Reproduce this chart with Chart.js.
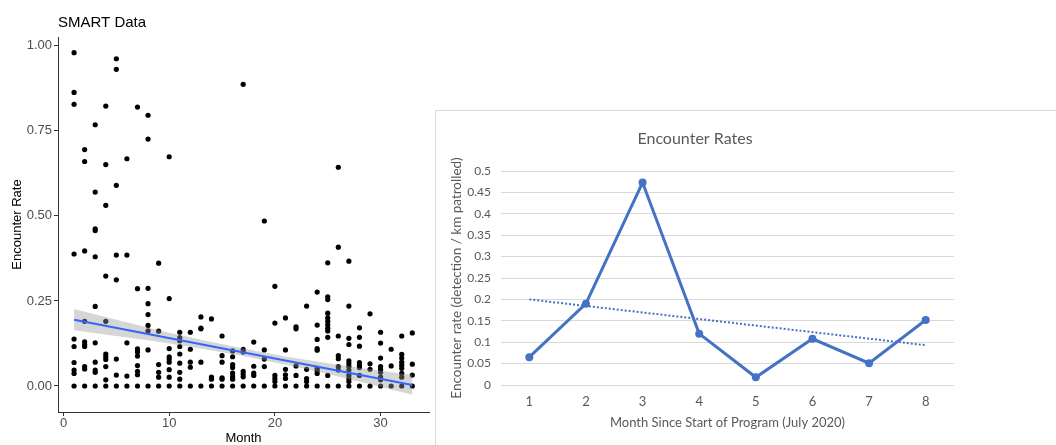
<!DOCTYPE html>
<html>
  <head>
    <meta charset="UTF-8" />
    <title>SMART Data / Encounter Rates</title>
    <script src="https://cdn.jsdelivr.net/npm/chart.js"></script>
    <style>
      body {
        margin: 0;
        background: #ffffff;
        width: 1056px;
        height: 445px;
        overflow: hidden;
        position: relative;
      }
      .left-box {
        position: absolute;
        left: 0;
        top: 0;
        width: 435px;
        height: 445px;
      }
      .right-box {
        position: absolute;
        left: 435px;
        top: 110px;
        width: 620px;
        height: 334px;
        border-left: 1px solid #d9d9d9;
        border-top: 1px solid #d9d9d9;
      }
    </style>
  </head>
  <body>
    <div class="left-box"><canvas id="smartChart"></canvas></div>
    <div class="right-box"><canvas id="rateChart"></canvas></div>

    <script>
      // left panel: SMART data, one row of encounter rates per month
      const smartMonths = [
        1, 2, 3, 4, 5, 6, 7, 8, 9, 10, 11, 12, 13, 14, 15, 16, 17,
        18, 19, 20, 21, 22, 23, 24, 25, 26, 27, 28, 29, 30, 31, 32, 33
      ];
      const smartRates = [
        [0.98, 0.863, 0.828, 0.388, 0.138, 0.116, 0.069, 0.047, 0.037, 0],
        [0.695, 0.66, 0.397, 0.19, 0.13, 0.122, 0.116, 0.057, 0.05, 0],
        [0.768, 0.57, 0.462, 0.457, 0.38, 0.234, 0.127, 0.07, 0.047, 0.04, 0],
        [0.823, 0.651, 0.531, 0.323, 0.19, 0.094, 0.086, 0.078, 0.057, 0.018, 0],
        [0.962, 0.931, 0.59, 0.385, 0.312, 0.079, 0.032, 0],
        [0.668, 0.385, 0.127, 0.029, 0],
        [0.82, 0.286, 0.109, 0.1, 0.088, 0.06, 0.043, 0.033, 0],
        [0.796, 0.726, 0.287, 0.242, 0.21, 0.178, 0.162, 0.106, 0],
        [0.361, 0.161, 0.063, 0.04, 0.026, 0],
        [0.674, 0.257, 0.11, 0.086, 0.079, 0.07, 0.048, 0.026, 0],
        [0.158, 0.142, 0.133, 0.116, 0.094, 0.067, 0.04, 0.02, 0],
        [0.158, 0.108, 0.07, 0.055, 0],
        [0.203, 0.17, 0.168, 0.07, 0],
        [0.197, 0.026, 0.02, 0],
        [0.147, 0.089, 0.07, 0.024, 0.02, 0],
        [0.103, 0.086, 0.063, 0.054, 0.038, 0.028, 0.02, 0],
        [0.887, 0.108, 0.1, 0.043, 0.035, 0.027, 0],
        [0.129, 0.058, 0.038, 0.031, 0],
        [0.485, 0.106, 0.079, 0.057, 0],
        [0.293, 0.185, 0.031, 0.022, 0.013, 0],
        [0.2, 0.106, 0.049, 0.033, 0.022, 0],
        [0.174, 0.168, 0.059, 0.031, 0],
        [0.235, 0.049, 0.022, 0.013, 0],
        [0.276, 0.179, 0.137, 0.11, 0.105, 0.052, 0.045, 0.037, 0],
        [0.362, 0.262, 0.254, 0.214, 0.2, 0.19, 0.18, 0.17, 0.162, 0.143, 0.031, 0],
        [0.643, 0.408, 0.147, 0.089, 0.08, 0.057, 0.047, 0],
        [0.367, 0.235, 0.14, 0.122, 0.074, 0.066, 0.057, 0.047, 0.031, 0.022, 0.013, 0],
        [0.171, 0.143, 0.117, 0.069, 0.061, 0.054, 0.031, 0],
        [0.212, 0.065, 0.049, 0],
        [0.158, 0.126, 0.082, 0.057, 0.049, 0.04, 0.026, 0.018, 0],
        [0.108, 0.059, 0],
        [0.147, 0.093, 0.082, 0.07, 0.061, 0.052, 0.037, 0.026, 0],
        [0.156, 0.064, 0.032, 0]
      ];

      // linear fit and its confidence band
      const fitMonths = [1, 33];
      const fitRates = [0.195, 0.003];
      const bandMonths = [1, 5, 9, 13, 17, 21, 25, 29, 33];
      const bandUpper = [0.226, 0.195, 0.164, 0.136, 0.110, 0.087, 0.067, 0.049, 0.032];
      const bandLower = [0.164, 0.147, 0.130, 0.110, 0.088, 0.063, 0.035, 0.005, -0.026];

      const smartXTicks = [0, 10, 20, 30];
      const smartYTicks = [0, 0.25, 0.5, 0.75, 1];

      // right panel: monthly encounter rates
      const programMonths = ["1", "2", "3", "4", "5", "6", "7", "8"];
      const encounterRates = [0.065, 0.19, 0.473, 0.12, 0.018, 0.108, 0.051, 0.152];
      const trendRates = [0.2, null, null, null, null, null, null, 0.093];

      const smartPoints = [];
      smartMonths.forEach((m, i) => {
        smartRates[i].forEach(v => smartPoints.push({ x: m, y: v }));
      });
      const fitPoints = fitMonths.map((m, i) => ({ x: m, y: fitRates[i] }));
      const upperPoints = bandMonths.map((m, i) => ({ x: m, y: bandUpper[i] }));
      const lowerPoints = bandMonths.map((m, i) => ({ x: m, y: bandLower[i] }));

      const ggFont = "'Liberation Sans', Arial, sans-serif";
      const xlFont = "Lato, 'Open Sans', sans-serif";

      new Chart(document.getElementById("smartChart"), {
        type: "scatter",
        data: {
          datasets: [
            {
              data: fitPoints,
              showLine: true,
              borderColor: "#3366ff",
              borderWidth: 2,
              pointRadius: 0
            },
            {
              data: upperPoints,
              showLine: true,
              borderColor: "transparent",
              pointRadius: 0,
              fill: "+1",
              backgroundColor: "rgba(153,153,153,0.4)"
            },
            {
              data: lowerPoints,
              showLine: true,
              borderColor: "transparent",
              pointRadius: 0,
              fill: false
            },
            {
              data: smartPoints,
              backgroundColor: "#000000",
              borderColor: "#000000",
              pointRadius: 2.6,
              borderWidth: 0
            }
          ]
        },
        options: {
          responsive: true,
          maintainAspectRatio: false,
          animation: false,
          layout: { padding: { left: 0, right: 6, top: 0, bottom: 0 } },
          plugins: {
            legend: { display: false },
            tooltip: { enabled: false },
            title: {
              display: true,
              text: "SMART Data",
              align: "start",
              fullSize: false,
              color: "#000000",
              font: { family: ggFont, size: 15, weight: "normal" },
              padding: { top: 14, bottom: 5 }
            }
          },
          scales: {
            x: {
              type: "linear",
              min: -0.52,
              max: 34.58,
              afterBuildTicks: s => { s.ticks = smartXTicks.map(v => ({ value: v })); },
              afterFit: s => { s.height = 33; },
              border: { display: true, color: "#333333", width: 1 },
              grid: { display: true, drawOnChartArea: false, drawTicks: true, tickLength: 4, tickColor: "#333333" },
              ticks: {
                color: "#4d4d4d",
                padding: 0,
                font: { family: ggFont, size: 13 },
                callback: v => String(v)
              },
              title: {
                display: true,
                text: "Month",
                color: "#000000",
                font: { family: ggFont, size: 13, lineHeight: 1 },
                padding: { top: 0, bottom: 0 }
              }
            },
            y: {
              min: -0.0765,
              max: 1.026,
              afterBuildTicks: s => { s.ticks = smartYTicks.map(v => ({ value: v })); },
              afterFit: s => { s.width = 58; },
              border: { display: true, color: "#333333", width: 1 },
              grid: { display: true, drawOnChartArea: false, drawTicks: true, tickLength: 4, tickColor: "#333333" },
              ticks: {
                color: "#4d4d4d",
                padding: 2,
                font: { family: ggFont, size: 13 },
                callback: v => v.toFixed(2)
              },
              title: {
                display: true,
                text: "Encounter Rate",
                color: "#000000",
                font: { family: ggFont, size: 13 },
                padding: { top: 10, bottom: 0 }
              }
            }
          }
        }
      });

      new Chart(document.getElementById("rateChart"), {
        type: "line",
        data: {
          labels: programMonths,
          datasets: [
            {
              data: encounterRates,
              borderColor: "#4472c4",
              backgroundColor: "#4472c4",
              borderWidth: 3,
              pointRadius: 4,
              pointBorderWidth: 0,
              tension: 0
            },
            {
              data: trendRates,
              spanGaps: true,
              borderColor: "#4472c4",
              borderWidth: 2,
              borderDash: [2, 2],
              pointRadius: 0,
              fill: false
            }
          ]
        },
        options: {
          responsive: true,
          maintainAspectRatio: false,
          animation: false,
          layout: { padding: { left: 0, right: 102, top: 0, bottom: 0 } },
          plugins: {
            legend: { display: false },
            tooltip: { enabled: false },
            title: {
              display: true,
              text: "Encounter Rates",
              color: "#595959",
              font: { family: xlFont, size: 16, weight: "normal" },
              padding: { top: 18, bottom: 22.8 }
            }
          },
          scales: {
            x: {
              offset: true,
              afterFit: s => { s.height = 60; },
              grid: { display: false, drawTicks: false },
              border: { display: false },
              ticks: {
                color: "#595959",
                padding: 9,
                font: { family: xlFont, size: 13 }
              },
              title: {
                display: true,
                text: "Month Since Start of Program (July 2020)",
                color: "#595959",
                font: { family: xlFont, size: 13 },
                padding: { top: 0, bottom: 14 }
              }
            },
            y: {
              min: 0,
              max: 0.5,
              afterFit: s => { s.width = 65; },
              border: { display: false },
              grid: { color: "#d9d9d9", lineWidth: 1, drawTicks: false },
              ticks: {
                stepSize: 0.05,
                autoSkip: false,
                color: "#595959",
                padding: 10,
                font: { family: xlFont, size: 12 },
                callback: v => String(Math.round(v * 100) / 100)
              },
              title: {
                display: true,
                text: "Encounter rate (detection / km patrolled)",
                color: "#595959",
                font: { family: xlFont, size: 13.5 },
                padding: { top: 13, bottom: 0 }
              }
            }
          }
        }
      });
    </script>
  </body>
</html>
